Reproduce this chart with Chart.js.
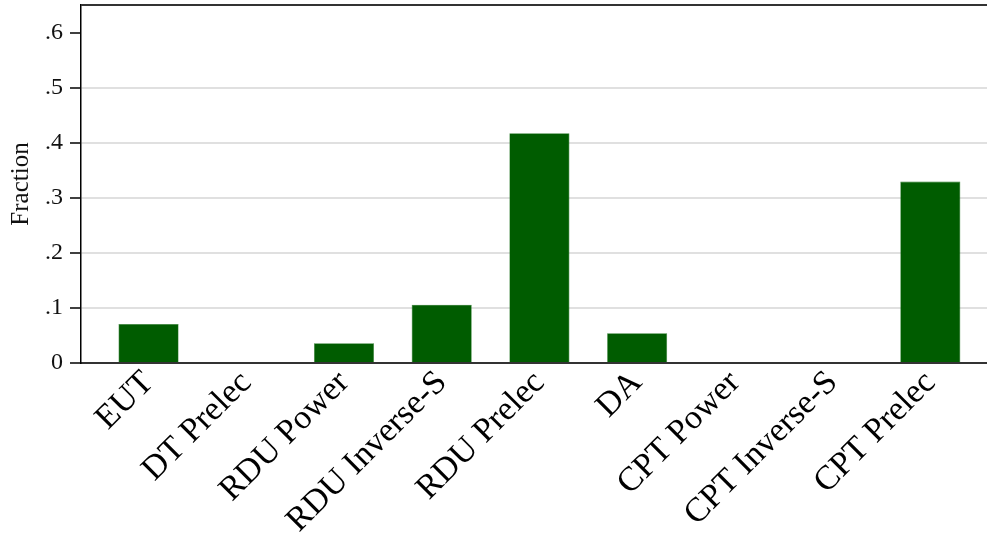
<!DOCTYPE html>
<html>
<head>
<meta charset="utf-8">
<script src="https://cdn.jsdelivr.net/npm/chart.js@4"></script>
<style>
  html, body { margin: 0; padding: 0; background: #fff; overflow: hidden; }
  #chart-container { width: 987px; height: 535px; position: relative; }
</style>
</head>
<body>
<div id="chart-container"><canvas id="myChart"></canvas></div>
<script>
// categorias y valores
const models = ['EUT', 'DT Prelec', 'RDU Power', 'RDU Inverse-S', 'RDU Prelec', 'DA', 'CPT Power', 'CPT Inverse-S', 'CPT Prelec'];
const fractions = [0.071, 0, 0.036, 0.106, 0.418, 0.054, 0, 0, 0.330];
const yTicks = [0, 0.1, 0.2, 0.3, 0.4, 0.5, 0.6];
const yTickLabels = ['0', '.1', '.2', '.3', '.4', '.5', '.6'];

document.addEventListener("DOMContentLoaded", () => {
  const chartCanvas = document.getElementById("myChart");
  const serif = "'Liberation Serif', 'DejaVu Serif', serif";

  // linea superior del marco
  const topBorder = {
    id: 'topBorder',
    afterDraw(chart) {
      const { ctx, chartArea } = chart;
      ctx.save();
      ctx.strokeStyle = '#333';
      ctx.lineWidth = 2;
      ctx.beginPath();
      ctx.moveTo(chartArea.left, chartArea.top);
      ctx.lineTo(chart.width, chartArea.top);
      ctx.stroke();
      ctx.restore();
    }
  };

  new Chart(chartCanvas, {
    type: 'bar',
    data: {
      datasets: [{
        data: fractions.map((v, i) => ({ x: i, y: v })),
        backgroundColor: '#005c00',
        borderColor: '#2f7d2f',
        borderWidth: 0.6,
        barPercentage: 0.615,
        categoryPercentage: 1
      }]
    },
    plugins: [topBorder],
    options: {
      responsive: true,
      maintainAspectRatio: false,
      animation: false,
      layout: { padding: { top: 5, right: 0, left: 0, bottom: 0 } },
      plugins: { legend: { display: false }, tooltip: { enabled: false } },
      scales: {
        x: {
          type: 'linear',
          offset: false,
          min: -0.691,
          max: 8.58,
          afterBuildTicks: axis => { axis.ticks = models.map((_, i) => ({ value: i })); },
          afterFit: axis => { axis.height = 535 - 363; axis.paddingLeft = 0; axis.paddingRight = 0; },
          grid: { display: false },
          border: { display: true, color: '#333', width: 2 },
          ticks: {
            autoSkip: false,
            minRotation: 45,
            maxRotation: 45,
            padding: -8,
            color: '#000',
            font: { family: serif, size: 34 },
            callback: value => models[value]
          }
        },
        y: {
          min: 0,
          max: 0.651,
          afterBuildTicks: axis => { axis.ticks = yTicks.map(v => ({ value: v })); },
          afterFit: axis => { axis.width = 81; axis.paddingTop = 0; axis.paddingBottom = 0; },
          grid: {
            color: ctx => (ctx.tick && ctx.tick.value > 0 && ctx.tick.value < 0.55) ? '#e0e0e0' : 'rgba(0,0,0,0)',
            lineWidth: 2,
            tickColor: '#000',
            tickLength: 11,
            tickWidth: 1.5
          },
          border: { display: true, color: '#000', width: 1.5 },
          ticks: {
            padding: 7,
            color: '#111',
            font: { family: serif, size: 24 },
            callback: (value, index) => yTickLabels[index]
          },
          title: {
            display: true,
            text: 'Fraction',
            color: '#111',
            font: { family: serif, size: 25 },
            padding: { top: 6, bottom: 0 }
          }
        }
      }
    }
  });
});
</script>
</body>
</html>
